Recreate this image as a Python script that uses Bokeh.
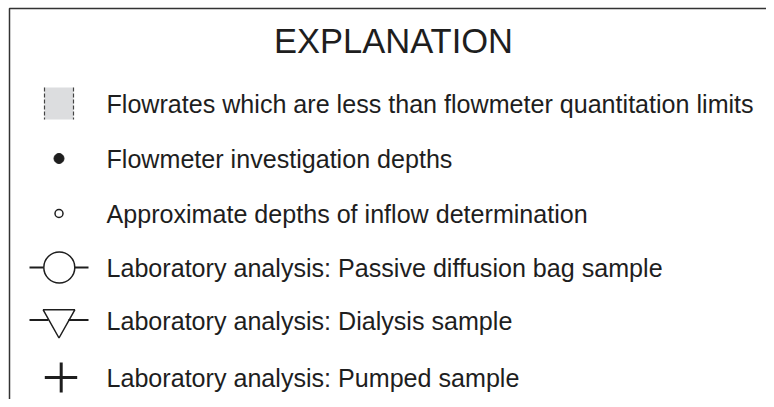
from bokeh.plotting import figure
from bokeh.models import Range1d
from bokeh.core.properties import value
from bokeh.embed import file_html
from bokeh.resources import INLINE

title = "EXPLANATION"
labels = [
    "Flowrates which are less than flowmeter quantitation limits",
    "Flowmeter investigation depths",
    "Approximate depths of inflow determination",
    "Laboratory analysis: Passive diffusion bag sample",
    "Laboratory analysis: Dialysis sample",
    "Laboratory analysis: Pumped sample",
]

# layout (pixel positions inside the figure)
W, H = 766, 399
row_y = [103, 158, 213, 267, 320, 377]
sym_x = 58.5
text_x = 106
FONT = value("Liberation Sans")
INK = "#1e1e1e"

p = figure(width=W, height=H, output_backend="svg", toolbar_location=None,
           x_range=Range1d(0, W), y_range=Range1d(H, 0), min_border=0)
p.axis.visible = False
p.grid.visible = False
p.outline_line_color = None
p.background_fill_color = "white"

# box border (top and left visible)
p.line([9, 9, W], [H, 8, 8], line_color="#333333", line_width=1.5)

# title
p.text([393], [40], text=[title], text_font=FONT, text_font_size="34.5px",
       text_align="center", text_baseline="middle", text_color=INK)

# labels
p.text([text_x] * len(labels), row_y, text=labels, text_font=FONT,
       text_font_size="25.1px", text_align="left", text_baseline="middle",
       text_color=INK)

# 1: gray dashed-edge box
y0 = row_y[0]
p.rect([sym_x], [y0], width=29, height=32, fill_color="#dcdddf", line_color=None)
p.segment([sym_x - 14.5, sym_x + 14.5], [y0 - 16, y0 - 16], [sym_x - 14.5, sym_x + 14.5], [y0 + 16, y0 + 16],
          line_color="#444444", line_width=1.2, line_dash="4 2")

# 2: filled dot
p.scatter([sym_x], [row_y[1]], size=10, marker="circle", fill_color=INK, line_color=INK)

# 3: small open circle
p.scatter([sym_x], [row_y[2]], size=8, marker="circle", fill_color="white",
          line_color=INK, line_width=1.5)

# 4: big open circle with ticks
y3 = row_y[3]
p.segment([29, 74], [y3, y3], [43, 88], [y3, y3], line_color=INK, line_width=2)
p.scatter([sym_x + 0.3], [y3], size=31, marker="circle", fill_color="white",
          line_color=INK, line_width=1.5)

# 5: inverted triangle with ticks
y4 = row_y[4]
p.segment([29, 68], [y4 - 0.5, y4 - 0.5], [48, 88], [y4 - 0.5, y4 - 0.5], line_color=INK, line_width=2)
p.patch([42.7, 74.3, 58.5], [y4 - 10.7, y4 - 10.7, y4 + 17.5], fill_color=None, line_color=INK, line_width=1.5)

# 6: plus
y5 = row_y[5]
p.segment([44.3, 60.7], [y5, y5 - 15], [76.7, 60.7], [y5, y5 + 15], line_color=INK, line_width=3)

open("out.html", "w").write(file_html(p, INLINE))
